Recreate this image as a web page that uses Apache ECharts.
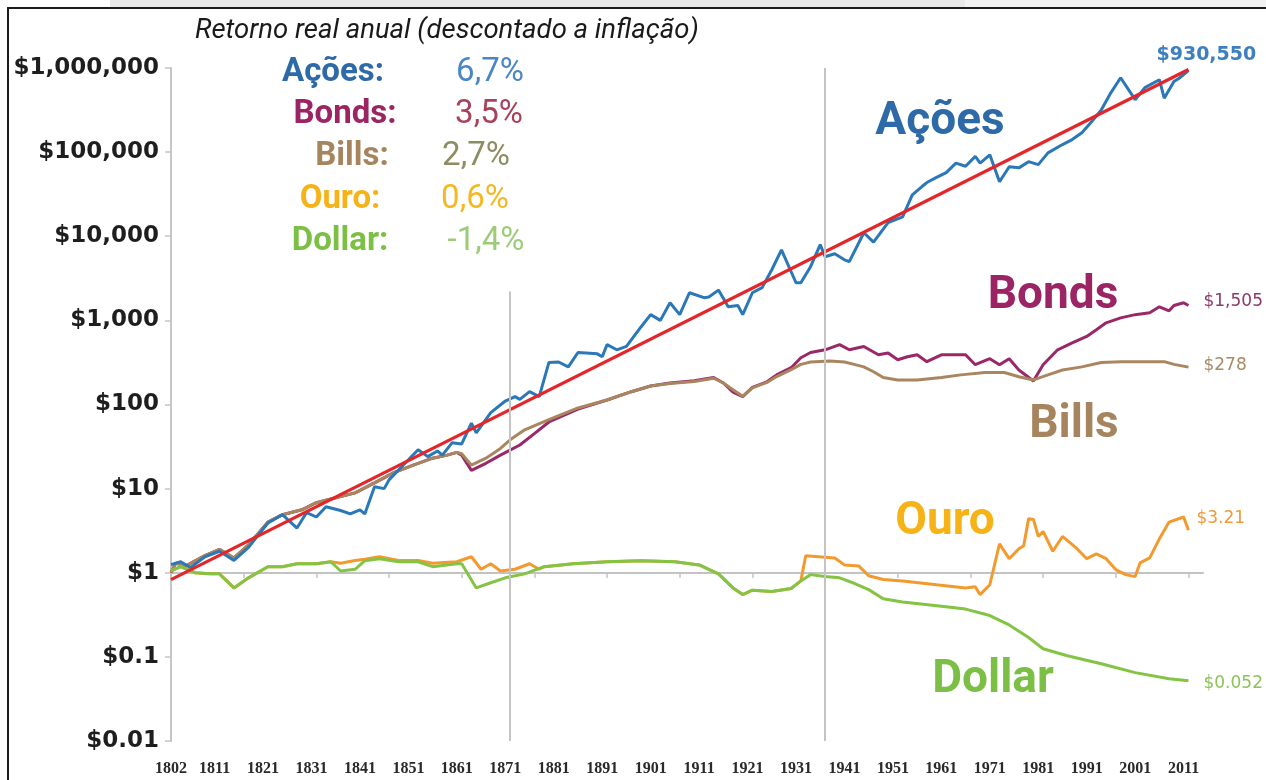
<!DOCTYPE html>
<html><head><meta charset="utf-8">
<script src="https://cdn.jsdelivr.net/npm/echarts@6/dist/echarts.min.js"></script>
<style>
html,body{margin:0;padding:0;width:1266px;height:780px;overflow:hidden;background:#fff;}
#strip{position:absolute;left:110px;top:0;width:1156px;height:8px;background:#e9e9e9;}
#strip2{position:absolute;left:965px;top:0;width:301px;height:8px;background:#f2f2f2;}
#frame{position:absolute;left:7px;top:7px;width:1300px;height:800px;border:2px solid #1c1c1c;background:#fff;box-sizing:border-box;}
#chart{position:absolute;left:0;top:0;width:1266px;height:780px;}
</style></head><body>
<div id="strip"></div><div id="strip2"></div><div id="frame"></div><div id="chart"></div>
<script>
// ---------- DATA ----------
const titleText = 'Retorno real anual (descontado a inflação)';
const legendNames = ['Ações:', 'Bonds:', 'Bills:', 'Ouro:', 'Dollar:'];
const legendRates = ['6,7%', '3,5%', '2,7%', '0,6%', '-1,4%'];
const seriesNames = ['Ações', 'Bonds', 'Bills', 'Ouro', 'Dollar'];
const endLabelTexts = ['$930,550', '$1,505', '$278', '$3.21', '$0.052'];
const xTickLabels = [1802,1811,1821,1831,1841,1851,1861,1871,1881,1891,1901,1911,1921,1931,1941,1951,1961,1971,1981,1991,2001,2011];
const oneLineTickYears = [1817,1832,1847,1862,1877,1892,1907,1922,1937,1952,1967,1982,1997,2012];
const yTickLabels = ['$0.01','$0.1','$1','$10','$100','$1,000','$10,000','$100,000','$1,000,000'];
const dividerYears = [1872, 1937];
const dividerTops = [2200, 1000000];

const stocks = [[1802,1.25],[1804,1.35],[1806,1.15],[1809,1.55],[1812,1.8],[1815,1.4],[1818,2.0],[1822,3.9],[1825,4.9],[1828,3.4],[1830,5.2],[1832,4.6],[1834,6.1],[1837,5.5],[1839,5.0],[1841,5.6],[1842,5.0],[1844,10.5],[1846,10],[1847,12.7],[1851,22],[1853,29],[1855,24],[1857,28],[1858,25],[1860,35],[1862,34],[1864,60],[1865,46],[1868,80],[1871,110],[1873,124],[1874,115],[1876,142],[1878,124],[1880,316],[1882,320],[1884,280],[1886,415],[1890,400],[1891,370],[1892,515],[1894,447],[1896,490],[1899,835],[1901,1170],[1903,1000],[1905,1620],[1907,1170],[1909,2130],[1912,1860],[1913,1900],[1915,2290],[1917,1450],[1919,1500],[1920,1170],[1922,2130],[1924,2450],[1926,4000],[1928,6900],[1931,2800],[1932,2800],[1934,4350],[1936,7950],[1937,5700],[1939,6200],[1941,5250],[1942,5000],[1945,11000],[1947,8500],[1950,14500],[1953,17000],[1955,31000],[1957,39000],[1958,43500],[1960,50000],[1962,57000],[1964,74000],[1966,68000],[1968,89000],[1969,74000],[1971,93000],[1973,44500],[1975,67000],[1977,65000],[1979,77000],[1981,71000],[1983,98000],[1986,123000],[1988,141000],[1990,170000],[1992,229000],[1994,317000],[1996,510000],[1998,765000],[2001,420000],[2003,585000],[2006,725000],[2007,437000],[2009,690000],[2010,750000],[2012,930550]];
const bonds = [[1802,1.0],[1803,1.3],[1805,1.2],[1809,1.6],[1812,1.9],[1815,1.5],[1818,2.15],[1822,4.0],[1825,4.9],[1829,5.6],[1832,6.8],[1836,7.8],[1840,8.9],[1844,11.7],[1848,15.5],[1852,19],[1856,23],[1859,25],[1861,27],[1862,25],[1864,16.5],[1867,20],[1870,25],[1874,33],[1877,45],[1880,62],[1886,88],[1892,113],[1897,142],[1901,166],[1905,180],[1910,192],[1914,209],[1916,180],[1918,140],[1920,124],[1922,160],[1925,186],[1927,225],[1930,274],[1932,360],[1934,415],[1937,447],[1940,515],[1942,447],[1945,490],[1948,390],[1950,410],[1952,340],[1954,370],[1956,390],[1958,323],[1961,390],[1964,390],[1966,390],[1968,297],[1971,350],[1973,297],[1975,350],[1977,257],[1980,190],[1982,297],[1985,447],[1988,540],[1991,645],[1993,775],[1995,935],[1998,1070],[2001,1170],[2004,1230],[2006,1450],[2008,1300],[2009,1500],[2011,1620],[2012,1505]];
const bills = [[1802,1.0],[1803,1.3],[1805,1.2],[1809,1.6],[1812,1.9],[1815,1.5],[1818,2.15],[1822,4.0],[1825,4.9],[1829,5.6],[1832,6.8],[1836,7.8],[1840,8.9],[1844,11.7],[1848,15.5],[1852,19],[1856,23],[1859,25],[1861,27],[1862,26],[1864,19],[1867,23],[1870,30],[1872,38],[1875,50],[1880,66],[1886,91],[1892,113],[1897,142],[1901,166],[1905,178],[1910,188],[1914,205],[1916,180],[1918,150],[1920,125],[1922,158],[1925,183],[1927,215],[1930,260],[1932,300],[1934,320],[1938,330],[1941,320],[1943,300],[1945,280],[1947,245],[1949,209],[1952,196],[1956,196],[1961,209],[1965,225],[1970,240],[1974,240],[1977,214],[1980,196],[1983,225],[1986,257],[1990,280],[1994,316],[1998,323],[2003,323],[2007,323],[2009,300],[2012,278]];
const gold = [[1802,1.05],[1804,1.18],[1807,1.0],[1810,0.97],[1812,0.97],[1815,0.66],[1818,0.87],[1822,1.18],[1825,1.18],[1828,1.28],[1832,1.28],[1835,1.35],[1837,1.3],[1840,1.4],[1842,1.45],[1845,1.55],[1849,1.4],[1853,1.4],[1856,1.3],[1861,1.35],[1864,1.55],[1866,1.1],[1868,1.28],[1870,1.05],[1873,1.1],[1876,1.28],[1878,1.1],[1879,1.18],[1885,1.28],[1892,1.35],[1899,1.39],[1906,1.35],[1911,1.24],[1915,0.97],[1918,0.66],[1920,0.55],[1922,0.62],[1926,0.6],[1930,0.65],[1932,0.8],[1933,1.59],[1939,1.5],[1941,1.24],[1944,1.2],[1946,0.92],[1949,0.83],[1953,0.8],[1960,0.72],[1966,0.66],[1968,0.68],[1969,0.55],[1971,0.72],[1973,2.2],[1975,1.47],[1977,1.93],[1978,2.1],[1979,4.4],[1980,4.3],[1981,2.7],[1982,3.1],[1984,1.8],[1986,2.7],[1989,1.93],[1991,1.47],[1993,1.68],[1995,1.47],[1997,1.09],[1999,0.95],[2001,0.9],[2002,1.31],[2004,1.5],[2006,2.53],[2008,4.0],[2011,4.6],[2012,3.21]];
const dollar = [[1802,1.05],[1804,1.18],[1807,1.0],[1810,0.97],[1812,0.97],[1815,0.66],[1818,0.87],[1822,1.18],[1825,1.18],[1828,1.28],[1832,1.28],[1835,1.35],[1837,1.05],[1840,1.1],[1842,1.39],[1845,1.47],[1849,1.35],[1853,1.35],[1856,1.18],[1861,1.28],[1862,1.28],[1865,0.66],[1868,0.76],[1871,0.87],[1875,0.97],[1879,1.18],[1885,1.28],[1892,1.35],[1899,1.39],[1906,1.35],[1911,1.24],[1915,0.97],[1918,0.66],[1920,0.55],[1922,0.62],[1926,0.6],[1930,0.65],[1932,0.8],[1934,0.95],[1937,0.9],[1940,0.87],[1943,0.75],[1946,0.63],[1949,0.49],[1953,0.45],[1961,0.40],[1966,0.37],[1971,0.31],[1975,0.24],[1979,0.17],[1982,0.125],[1987,0.103],[1994,0.083],[2001,0.065],[2008,0.055],[2012,0.052]];
const trend = [[1802,0.83],[2012,960000]];

// ---------- STYLE ----------
const lineColors = ['#2b78b8', '#9a2868', '#a9865f', '#f29a2e', '#84c445'];
const labelColors = ['#2e6aa7', '#9b2465', '#a6855e', '#f6b318', '#7cbf45'];
const rateColors = ['#4a86c5', '#a8425a', '#8d8d62', '#f4b820', '#9ccc7a'];
const endColors = ['#3d7fbf', '#8c3a6b', '#a88a68', '#ee9a3a', '#8cc35a'];

const chart = echarts.init(document.getElementById('chart'), null, {renderer: 'canvas'});

function lineSeries(i, data, endOffset, endFont) {
  return {
    type: 'line', name: seriesNames[i], data: data, symbol: 'none', z: 3,
    lineStyle: {color: lineColors[i], width: 3},
    endLabel: {show: true, formatter: endLabelTexts[i], distance: 0, offset: endOffset,
      color: endColors[i], fontFamily: 'DejaVu Sans', fontSize: endFont[0], fontWeight: endFont[1]}
  };
}

const legendPos = [[333, 73, 490], [345, 115, 489], [352, 157, 476], [340, 200, 475], [340, 242, 486]];
const bigLabelPos = [[940, 122], [1053, 296], [1074, 425], [945, 522], [993, 680]];
const graphics = [];
graphics.push({type: 'text', x: 195, y: 31, style: {text: titleText, font: 'italic 27.5px Roboto', fill: '#1a1a1a', textAlign: 'left', textVerticalAlign: 'middle'}});
legendNames.forEach((n, i) => {
  graphics.push({type: 'text', x: legendPos[i][0], y: legendPos[i][1], style: {text: n, font: 'bold 33px Roboto', fill: labelColors[i], textAlign: 'center', textVerticalAlign: 'middle'}});
  graphics.push({type: 'text', x: legendPos[i][2], y: legendPos[i][1], style: {text: legendRates[i], font: '33px Roboto', fill: rateColors[i], textAlign: 'center', textVerticalAlign: 'middle'}});
});
seriesNames.forEach((n, i) => {
  graphics.push({type: 'text', x: bigLabelPos[i][0], y: bigLabelPos[i][1], z: 10, style: {text: n, font: 'bold 46px Roboto', fill: labelColors[i], textAlign: 'center', textVerticalAlign: 'middle'}});
});

const option = {
  animation: false,
  backgroundColor: 'transparent',
  grid: {left: 171, right: 63, top: 68, bottom: 39, containLabel: false},
  xAxis: [{
    type: 'value', min: 1802, max: 2015,
    axisLine: {show: false}, axisTick: {show: false}, splitLine: {show: false},
    axisLabel: {customValues: xTickLabels, margin: 20, formatter: v => String(v),
      fontFamily: 'Liberation Serif', fontWeight: 'bold', fontSize: 16, color: '#2a2a2a'}
  }, {
    type: 'value', min: 1802, max: 2015, position: 'bottom', offset: -168,
    axisLine: {show: true, lineStyle: {color: '#c3c3c3', width: 2}},
    axisTick: {show: true, customValues: oneLineTickYears, length: 5, lineStyle: {color: '#c3c3c3', width: 1.5}},
    axisLabel: {show: false}, splitLine: {show: false}
  }],
  yAxis: {
    type: 'log', logBase: 10, min: 0.01, max: 1000000, interval: 1,
    axisLine: {show: true, lineStyle: {color: '#c6c6c6', width: 2}},
    axisTick: {show: true, length: 6, lineStyle: {color: '#c6c6c6', width: 1.5}},
    splitLine: {show: false}, minorTick: {show: false},
    axisLabel: {margin: 12, fontFamily: 'DejaVu Sans', fontWeight: 'bold', fontSize: 23, color: '#1e1e1e',
      formatter: v => yTickLabels[Math.round(Math.log10(v)) + 2]}
  },
  series: [
    {type: 'line', name: 'div', data: [], symbol: 'none', silent: true,
     markLine: {symbol: 'none', silent: true, label: {show: false}, lineStyle: {color: '#c4c4c4', width: 2, type: 'solid'},
       data: dividerYears.map((yr, k) => [{coord: [yr, 0.01]}, {coord: [yr, dividerTops[k]]}])}},
    lineSeries(1, bonds, [15, -4], [17, 'normal']),
    lineSeries(2, bills, [15, -2], [17, 'normal']),
    lineSeries(0, stocks, [-32, -16], [19, 'bold']),
    lineSeries(3, gold, [8, -12], [17, 'normal']),
    lineSeries(4, dollar, [15, 3], [17, 'normal']),
    {type: 'line', name: 'trend', data: trend, symbol: 'none', z: 4, lineStyle: {color: '#e4262a', width: 3.2}}
  ],
  graphic: graphics
};
chart.setOption(option);
</script></body></html>
